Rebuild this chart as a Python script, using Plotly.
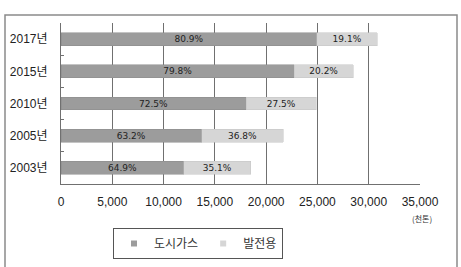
import plotly.graph_objects as go

years = ["2003년", "2005년", "2010년", "2015년", "2017년"]
city_gas = [11990, 13710, 18050, 22750, 24950]
power = [6490, 7980, 6850, 5750, 5890]
city_pct = ["64.9%", "63.2%", "72.5%", "79.8%", "80.9%"]
power_pct = ["35.1%", "36.8%", "27.5%", "20.2%", "19.1%"]
x_ticks = [0, 5000, 10000, 15000, 20000, 25000, 30000, 35000]
series_names = ["도시가스", "발전용"]
series_colors = ["#9c9c9c", "#d6d6d6"]

W, H = 461, 267
L, R, T, B = 61, 41, 23, 83
pw, ph = W - L - R, H - T - B

def px(x):
    return (x - L) / pw

def py(y):
    return (H - B - y) / ph

fig = go.Figure()
for vals, labels, name, col, edge in [(city_gas, city_pct, series_names[0], series_colors[0], "#8a8a8a"),
                                      (power, power_pct, series_names[1], series_colors[1], "#c4c4c4")]:
    fig.add_trace(go.Bar(
        y=years, x=vals, orientation="h", name=name, showlegend=False,
        marker=dict(color=col, line=dict(color=edge, width=0.5)),
        text=labels, textposition="inside", insidetextanchor="middle",
        textfont=dict(size=9, color="#222222", family="DejaVu Sans"),
        constraintext="none", textangle=0,
    ))
for name, col in zip(series_names, series_colors):
    fig.add_trace(go.Scatter(
        x=[None], y=[None], mode="markers", name=name,
        marker=dict(symbol="square", size=6, color=col, line=dict(width=0)),
    ))

fig.update_layout(
    width=W, height=H, barmode="stack", bargap=0.6,
    margin=dict(l=L, r=R, t=T, b=B, autoexpand=False),
    paper_bgcolor="white", plot_bgcolor="white",
    font=dict(family="Liberation Sans, Noto Sans CJK KR", color="#222222"),
    showlegend=True,
    legend=dict(orientation="h", x=px(198), y=py(228), xanchor="center", yanchor="top",
                bordercolor="#555555", borderwidth=1, bgcolor="white",
                font=dict(size=12, family="Noto Sans CJK KR", color="#333333"),
                traceorder="normal", itemwidth=30, tracegroupgap=0),
)
fig.update_xaxes(
    range=[0, 35000], tickvals=x_ticks, tickformat=",d",
    showgrid=True, gridcolor="#707070", gridwidth=1,
    showline=True, linecolor="#707070", linewidth=1, mirror=False,
    zeroline=False, ticks="", tickfont=dict(size=12, color="#222222"),
    ticklabelstandoff=7, fixedrange=True, automargin=False,
)
fig.update_yaxes(
    showgrid=False, showline=True, linecolor="#707070", linewidth=1,
    ticks="inside", ticklen=3, tickcolor="#707070", tickson="boundaries",
    tickfont=dict(size=12, family="Liberation Sans, Noto Sans CJK KR", color="#222222"),
    ticklabelstandoff=10, fixedrange=True, automargin=False,
)
fig.add_shape(type="rect", xref="paper", yref="paper",
              x0=px(5), x1=px(457), y0=py(300), y1=py(15),
              line=dict(color="#8a8a8a", width=1.5), layer="below")
fig.add_annotation(text="(천톤)", xref="paper", yref="paper", x=px(422), y=py(218),
                   xanchor="center", yanchor="middle",
                   showarrow=False, font=dict(size=8, color="#333333", family="Noto Sans CJK KR"))

fig.write_html("out.html")
